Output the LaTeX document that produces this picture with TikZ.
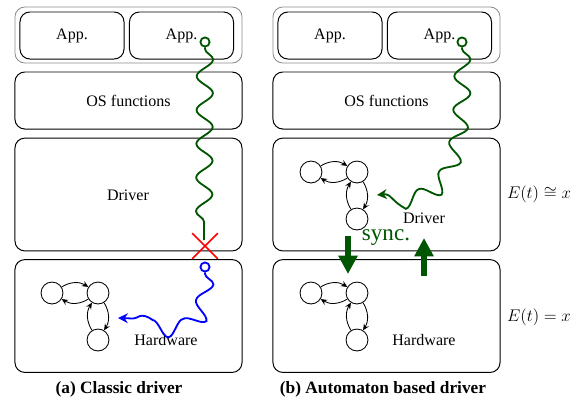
\documentclass[tikz,border=0pt]{standalone}
\usepackage{fontspec}
\setmainfont{Liberation Serif}
\usetikzlibrary{positioning,arrows.meta,fit,decorations.pathmorphing,shapes.misc}
\definecolor{dkgreen}{RGB}{0,85,0}
\tikzset{
  layerbox/.style={draw, rounded corners=7pt, line width=0.7pt, inner sep=0pt, align=center},
  appbox/.style={layerbox, minimum width=2.6cm, minimum height=1.175cm},
  oslayer/.style={layerbox, minimum width=5.675cm, minimum height=1.425cm},
  biglayer/.style={layerbox, minimum width=5.675cm, minimum height=2.82cm},
  appgroup/.style={draw=black!45, rounded corners=7pt, line width=0.6pt, inner sep=0pt,
    minimum width=5.675cm, minimum height=1.4cm},
  state/.style={draw, circle, minimum size=15.6pt, inner sep=0pt, line width=0.6pt},
  trans/.style={-{Stealth[length=4.5pt,width=4pt]}, line width=0.6pt, bend left=32},
  wiggle/.style={line width=1.3pt, decorate,
    decoration={snake, amplitude=5.8pt, segment length=24pt, pre length=1pt, post length=5pt}},
  wigtip/.style={-{Stealth[length=7pt,width=7pt]}},
  endpt/.style={draw, circle, line width=1.3pt, minimum size=6.5pt, inner sep=0pt},
  syncarrow/.style={-{Triangle[length=13pt,width=13pt]}, line width=3.6pt, dkgreen},
  caption/.style={font=\fontsize{12.3}{14}\selectfont\bfseries}
}
% three-state automaton: name prefix, position of first state
\newcommand{\fsm}[3]{%
  \node[state] (#1a) at (#2,#3) {};
  \node[state] (#1b) at (#2+46,#3) {};
  \node[state] (#1c) at (#2+46,#3+47) {};
  \draw[trans] (#1a) to (#1b);
  \draw[trans] (#1b) to (#1a);
  \draw[trans] (#1b) to (#1c);
  \draw[trans] (#1c) to (#1b);
}

\begin{document}
\begin{tikzpicture}[x=0.025cm, y=-0.025cm, every node/.style={font=\fontsize{11.4}{13}\selectfont}]
  \useasboundingbox (0,0) rectangle (579,404);

  % layers of both stacks
  \foreach \off/\side in {0/l, 258/r}{
    \node[appgroup] (\side grp) at (128.5+\off,35) {};
    \node[appbox] (\side appa) at (72+\off,35.5) {App.};
    \node[appbox] (\side appb) at (181.5+\off,35.5) {App.};
    \node[oslayer] (\side os) at (128.5+\off,100.5) {OS functions};
    \node[biglayer] (\side drv) at (128.5+\off,194.5) {};
    \node[biglayer] (\side hw) at (128.5+\off,316) {};
  }

  % (a) classic driver
  \node (ldrvtxt) at (128,195) {Driver};
  \node (lhwtxt) at (166,340) {Hardware};
  \fsm{lhw}{52}{293}
  \node[endpt, dkgreen] (lstart) at (205,42) {};
  \node[cross out, draw=red, line width=1.2pt, minimum size=17pt, inner sep=0pt] (lcut) at (205,246) {};
  \coordinate (lstop) at (204,240);
  \draw[wiggle, dkgreen] (lstart.south) -- (lstop);
  \node[endpt, blue] (lhwstart) at (205,267) {};
  \coordinate (lhwtip) at (118,318);
  \draw[wiggle, wigtip, blue] (lhwstart.south) .. controls (207,340) and (165,318) .. (lhwtip);

  % (b) automaton based driver
  \node (rdrvtxt) at (424,218) {Driver};
  \node (rhwtxt) at (424,340) {Hardware};
  \fsm{rdrv}{311}{172}
  \fsm{rhw}{311}{293}
  \node[endpt, dkgreen] (rstart) at (462,42) {};
  \coordinate (rdrvtip) at (377,195);
  \draw[wiggle, wigtip, dkgreen] (rstart.south) .. controls (466,200) and (425,190) .. (rdrvtip);

  \node[text=dkgreen, font=\fontsize{16.4}{18}\selectfont] (synctxt) at (386,238) {sync.};
  \coordinate (sdtop) at (348,236);
  \coordinate (sdbot) at (348,274);
  \coordinate (sutop) at (424,238);
  \coordinate (subot) at (424,276);
  \draw[syncarrow] (sdtop) -- (sdbot);
  \draw[syncarrow] (subot) -- (sutop);

  \node[font=\fontsize{13}{15}\selectfont] (eapprox) at (539,194) {$E(t)\cong x$};
  \node[font=\fontsize{13}{15}\selectfont] (eexact) at (539,317) {$E(t)=x$};

  \node[caption] (capa) at (119,389) {(a) Classic driver};
  \node[caption] (capb) at (383,389) {(b) Automaton based driver};
\end{tikzpicture}
\end{document}
